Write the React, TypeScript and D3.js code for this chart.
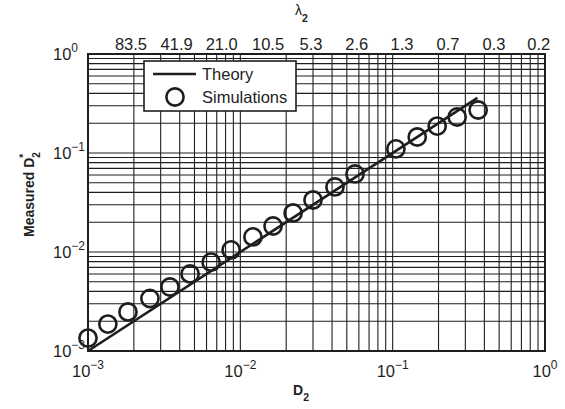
import React from "react";
import * as d3 from "d3";

// Simulation data: D2 vs measured D2*
const simD = [0.001, 0.00135, 0.00183, 0.00255, 0.00345, 0.00468, 0.00643, 0.0087, 0.0121, 0.0164, 0.0222, 0.030, 0.0418, 0.0566, 0.105, 0.145, 0.196, 0.265, 0.364];
const simMeasured = [0.00135, 0.00187, 0.00248, 0.00339, 0.00443, 0.0060, 0.0079, 0.0105, 0.0142, 0.0183, 0.0248, 0.0335, 0.0454, 0.0614, 0.110, 0.145, 0.187, 0.231, 0.272];
// Theory: D2* = D2
const theoryD = [0.001, 0.36];
const theoryMeasured = [0.001, 0.36];
// Top axis (lambda_2) ticks at D2 positions
const topTickD = [0.001915, 0.00382, 0.00755, 0.0152, 0.0291, 0.0581, 0.1153, 0.231, 0.463, 0.911];
const topTickLabels = ["83.5", "41.9", "21.0", "10.5", "5.3", "2.6", "1.3", "0.7", "0.3", "0.2"];
const majorTicks = [0.001, 0.01, 0.1, 1];
const majorExp = ["−3", "−2", "−1", "0"];

const W = 565, H = 409;
const L = 88, R = 545, T = 54, B = 351;
const FONT = "'Liberation Sans', Arial, Helvetica, sans-serif";
const INK = "#1e1e1e";

export default function App() {
  const x = d3.scaleLog().domain([1e-3, 1]).range([L, R]);
  const y = d3.scaleLog().domain([1e-3, 1]).range([B, T]);
  const gridVals: number[] = [];
  for (const dec of [1e-3, 1e-2, 1e-1]) {
    for (let k = 1; k <= 9; k++) gridVals.push(dec * k);
  }
  gridVals.push(1);
  const line = d3.line<number>().x((_, i) => x(theoryD[i])).y((_, i) => y(theoryMeasured[i]));

  return (
    <svg width={W} height={H} style={{ position: "absolute", left: 0, top: 0, background: "#fff" }} fontFamily={FONT}>
      <rect x={0} y={0} width={W} height={H} fill="#fff" />
      {/* grid */}
      {gridVals.map((v, i) => (
        <line key={"gx" + i} x1={x(v)} x2={x(v)} y1={T} y2={B} stroke={INK} strokeWidth={1.1} />
      ))}
      {gridVals.map((v, i) => (
        <line key={"gy" + i} x1={L} x2={R} y1={y(v)} y2={y(v)} stroke={INK} strokeWidth={1.1} />
      ))}
      {/* box */}
      <rect x={L} y={T} width={R - L} height={B - T} fill="none" stroke={INK} strokeWidth={2} />
      {/* theory line */}
      <path d={line(theoryD) || ""} fill="none" stroke={INK} strokeWidth={2.6} />
      {/* simulations */}
      {simD.map((d, i) => (
        <circle key={"c" + i} cx={x(d)} cy={y(simMeasured[i])} r={8.6} fill="none" stroke={INK} strokeWidth={2.6} />
      ))}
      {/* bottom tick labels */}
      {majorTicks.map((v, i) => (
        <text key={"bx" + i} x={x(v)} y={377} textAnchor="middle" fontSize={16.5} fill={INK}>
          10<tspan fontSize={12} dy={-8}>{majorExp[i]}</tspan>
        </text>
      ))}
      {/* left tick labels */}
      {majorTicks.map((v, i) => (
        <text key={"ly" + i} x={53} y={y(v) + 6} textAnchor="start" fontSize={16.5} fill={INK}>
          10<tspan fontSize={12} dy={-8}>{majorExp[i]}</tspan>
        </text>
      ))}
      {/* top tick labels */}
      {topTickD.map((v, i) => (
        <text key={"tx" + i} x={x(v)} y={50} textAnchor="middle" fontSize={16.5} fill={INK}>
          {topTickLabels[i]}
        </text>
      ))}
      {/* axis labels */}
      <text x={293} y={395} fontSize={14} fontWeight="bold" fill={INK}>
        D<tspan fontSize={10.5} dy={6}>2</tspan>
      </text>
      <text x={295} y={15} fontSize={14} fill={INK}>
        λ<tspan fontSize={10.5} fontWeight="bold" dy={7}>2</tspan>
      </text>
      <g transform="translate(34,237) rotate(-90)">
        <text x={0} y={0} fontSize={14} fontWeight="bold" fill={INK}>
          Measured D<tspan fontSize={10} dy={-7}>*</tspan>
          <tspan fontSize={10} dx={-4} dy={13}>2</tspan>
        </text>
      </g>
      {/* legend */}
      <rect x={144} y={61} width={152} height={50} fill="#fff" stroke={INK} strokeWidth={1.6} />
      <line x1={153} x2={196} y1={74} y2={74} stroke={INK} strokeWidth={2.6} />
      <circle cx={175} cy={97} r={8.6} fill="none" stroke={INK} strokeWidth={2.6} />
      <text x={202} y={80} fontSize={16.5} fill={INK}>Theory</text>
      <text x={202} y={103} fontSize={16.5} fill={INK}>Simulations</text>
    </svg>
  );
}
